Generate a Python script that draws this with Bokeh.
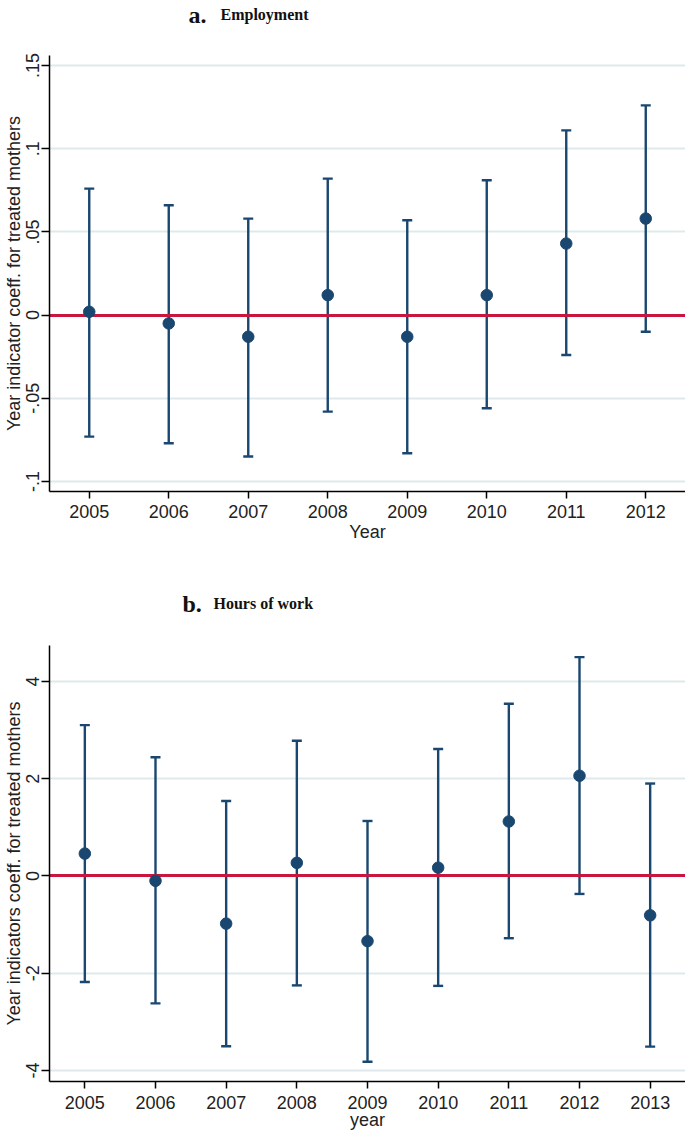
from bokeh.plotting import figure
from bokeh.layouts import column
from bokeh.models import ColumnDataSource, Whisker, TeeHead, FixedTicker, Range1d
from bokeh.core.properties import value
from bokeh.embed import file_html
from bokeh.resources import INLINE

# ---- data: panel a (Employment) ----
years_a = [2005, 2006, 2007, 2008, 2009, 2010, 2011, 2012]
coef_a = [0.002, -0.005, -0.013, 0.012, -0.013, 0.012, 0.043, 0.058]
upper_a = [0.076, 0.066, 0.058, 0.082, 0.057, 0.081, 0.111, 0.126]
lower_a = [-0.073, -0.077, -0.085, -0.058, -0.083, -0.056, -0.024, -0.010]
yticks_a = [-0.1, -0.05, 0, 0.05, 0.1, 0.15]
ylabels_a = ["-.1", "-.05", "0", ".05", ".1", ".15"]

# ---- data: panel b (Hours of work) ----
years_b = [2005, 2006, 2007, 2008, 2009, 2010, 2011, 2012, 2013]
coef_b = [0.46, -0.10, -0.98, 0.27, -1.34, 0.17, 1.12, 2.06, -0.81]
upper_b = [3.10, 2.44, 1.54, 2.78, 1.13, 2.61, 3.54, 4.50, 1.90]
lower_b = [-2.18, -2.62, -3.50, -2.25, -3.82, -2.26, -1.28, -0.37, -3.51]
yticks_b = [-4, -2, 0, 2, 4]
ylabels_b = ["-4", "-2", "0", "2", "4"]

NAVY = "#1a476f"
RED = "#c8163f"
GRID = "#dfe9ec"
TXT = "#222222"
SANS = "Liberation Sans"
SERIF = "Liberation Serif"
W = 685
LEFT = 49


def header(height, letter, letter_x, title, title_x, baseline):
    h = figure(width=W, height=height, output_backend="svg", toolbar_location=None,
               title_location=None,
               x_range=Range1d(LEFT, W), y_range=Range1d(height, 0),
               x_axis_location=None, y_axis_location=None,
               min_border_left=LEFT, min_border_right=0,
               min_border_top=0, min_border_bottom=0)
    h.outline_line_color = None
    h.grid.visible = False
    h.text(x=[letter_x], y=[baseline], text=[letter], text_font=value(SERIF),
           text_font_style="bold", text_font_size="24px", text_color="#111111",
           text_baseline="alphabetic", text_align="left")
    h.text(x=[title_x], y=[baseline], text=[title], text_font=value(SERIF),
           text_font_style="bold", text_font_size="16px", text_color="#111111",
           text_baseline="alphabetic", text_align="left")
    return h


def panel(years, coef, upper, lower, yticks, ylabels, xr, yr, height,
          top_border, bottom_border, xlabel, ytitle, xlab_standoff, xtick_standoff):
    p = figure(width=W, height=height, output_backend="svg", toolbar_location=None,
               title_location=None,
               x_range=Range1d(*xr), y_range=Range1d(*yr),
               min_border_left=LEFT, min_border_right=0,
               min_border_top=top_border, min_border_bottom=bottom_border)
    p.outline_line_color = None
    p.xgrid.grid_line_color = None
    p.ygrid.grid_line_color = GRID
    p.ygrid.grid_line_width = 2

    src = ColumnDataSource(dict(x=years, y=coef, hi=upper, lo=lower))
    p.hspan(y=[0], line_color=RED, line_width=3)
    w = Whisker(base="x", upper="hi", lower="lo", source=src, dimension="height",
                line_color=NAVY, line_width=2.4,
                upper_head=TeeHead(size=10, line_color=NAVY, line_width=2.4),
                lower_head=TeeHead(size=10, line_color=NAVY, line_width=2.4))
    p.add_layout(w)
    p.scatter("x", "y", source=src, size=11.5, color=NAVY)

    for ax in (p.xaxis[0], p.yaxis[0]):
        ax.axis_line_color = "black"
        ax.axis_line_width = 1.5
        ax.major_tick_line_color = "black"
        ax.major_tick_line_width = 1.5
        ax.major_tick_in = 0
        ax.minor_tick_line_color = None
        ax.major_label_text_font = SANS
        ax.major_label_text_font_size = "18px"
        ax.major_label_text_color = TXT
        ax.axis_label_text_font = SANS
        ax.axis_label_text_font_size = "18px"
        ax.axis_label_text_font_style = "normal"
        ax.axis_label_text_color = TXT

    p.xaxis.ticker = FixedTicker(ticks=years)
    p.xaxis.major_tick_out = 7
    p.xaxis.major_label_standoff = xtick_standoff
    p.xaxis.axis_label = xlabel
    p.xaxis.axis_label_standoff = xlab_standoff

    p.yaxis.ticker = FixedTicker(ticks=yticks)
    p.yaxis.major_label_overrides = {t: l for t, l in zip(yticks, ylabels)}
    p.yaxis.major_label_orientation = "vertical"
    p.yaxis.major_tick_out = 8
    p.yaxis.major_label_standoff = 2
    p.yaxis.axis_label = ytitle
    p.yaxis.axis_label_standoff = 0
    return p


head_a = header(40, "a.", 188, "Employment", 220, 14)
pa = panel(years_a, coef_a, upper_a, lower_a, yticks_a, ylabels_a,
           (2004.5, 2012.5), (-0.106, 0.156), 504, 15, 52,
           "Year", "Year indicator coeff. for treated mothers", 1, 6)
head_b = header(96, "b.", 182, "Hours of work", 213, 59)
pb = panel(years_b, coef_b, upper_b, lower_b, yticks_b, ylabels_b,
           (2004.5, 2013.5), (-4.226, 4.738), 492, 5, 50,
           "year", "Year indicators coeff. for treated mothers", -2, 7)

layout = column(head_a, pa, head_b, pb, spacing=0)
open("out.html", "w").write(file_html(layout, INLINE))
